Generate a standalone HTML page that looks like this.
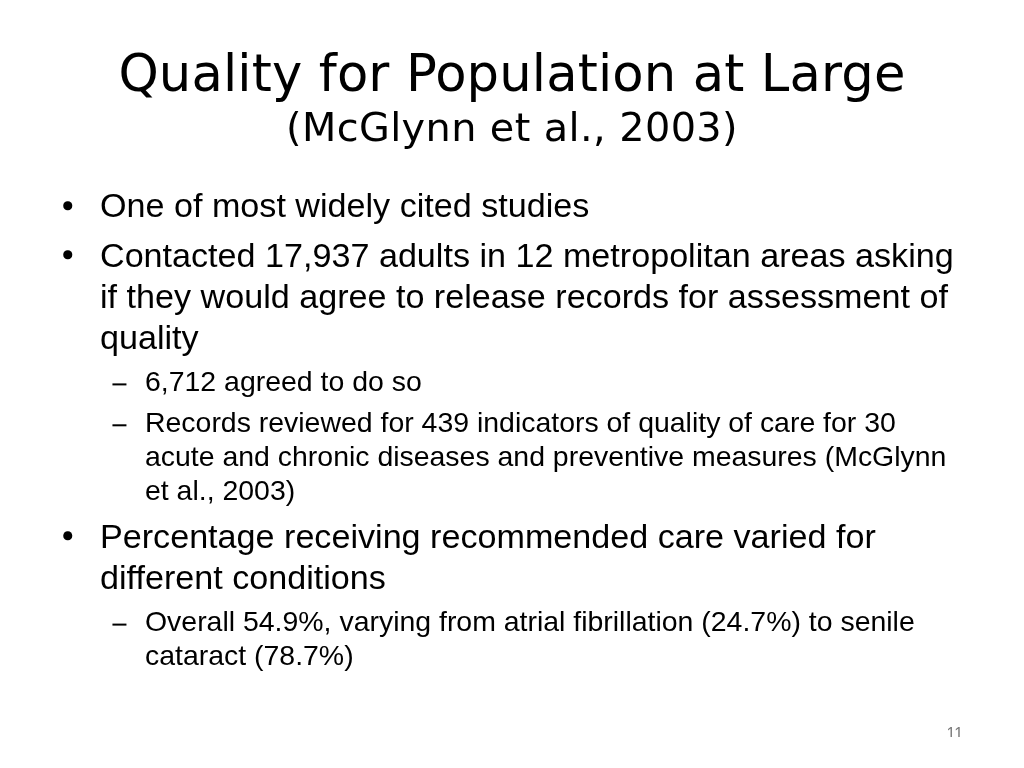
<!DOCTYPE html>
<html>
<head>
<meta charset="utf-8">
<title>Quality for Population at Large</title>
<style>
html,body{margin:0;padding:0;background:#fff;}
body{width:1024px;height:768px;position:relative;overflow:hidden;}
#s{position:absolute;left:0;top:0;width:1024px;height:768px;will-change:transform;}
.l{position:absolute;white-space:nowrap;line-height:1;color:#000;}
.t{font-family:"DejaVu Sans","Liberation Sans",sans-serif;}
.t1{font-size:51.2px;letter-spacing:0.14px;}
.t2{font-size:39.8px;letter-spacing:0.4px;}
.b{font-family:"Liberation Sans",Arial,sans-serif;font-size:34.13px;}
.s{font-family:"Liberation Sans",Arial,sans-serif;font-size:28.44px;}
.bul{position:absolute;width:8.5px;height:8.5px;border-radius:50%;background:#000;}
.dsh{position:absolute;width:13.6px;height:2.1px;background:#000;}
.pn{font-family:"Liberation Sans",Arial,sans-serif;font-size:16px;color:#7a7a7a;height:11px;overflow:hidden;}
</style>
</head>
<body>
<div id="s">
<div class="l t t1" style="left:0;width:1024px;text-align:center;top:48.29px">Quality for Population at Large</div>
<div class="l t t2" style="left:0;width:1024px;text-align:center;top:107.87px">(McGlynn et al., 2003)</div>
<div class="bul" style="left:0;top:0;transform:translate(63.25px,201.15px)"></div>
<div class="l b" style="left:100.0px;top:188.49px">One of most widely cited studies</div>
<div class="bul" style="left:0;top:0;transform:translate(63.25px,250.35px)"></div>
<div class="l b" style="left:100.0px;top:237.69px">Contacted 17,937 adults in 12 metropolitan areas asking</div>
<div class="l b" style="left:100.0px;top:278.69px">if they would agree to release records for assessment of</div>
<div class="l b" style="left:100.0px;top:319.69px">quality</div>
<div class="dsh" style="left:0;top:0;transform:translate(112.45px,383.40px)"></div>
<div class="l s" style="left:145.0px;top:366.63px">6,712 agreed to do so</div>
<div class="dsh" style="left:0;top:0;transform:translate(112.45px,424.30px)"></div>
<div class="l s" style="left:145.0px;top:407.53px">Records reviewed for 439 indicators of quality of care for 30</div>
<div class="l s" style="left:145.0px;top:441.83px">acute and chronic diseases and preventive measures (McGlynn</div>
<div class="l s" style="left:145.0px;top:475.83px">et al., 2003)</div>
<div class="bul" style="left:0;top:0;transform:translate(63.25px,531.25px)"></div>
<div class="l b" style="left:100.0px;top:518.59px">Percentage receiving recommended care varied for</div>
<div class="l b" style="left:100.0px;top:559.59px">different conditions</div>
<div class="dsh" style="left:0;top:0;transform:translate(112.45px,623.60px)"></div>
<div class="l s" style="left:145.0px;top:606.83px">Overall 54.9%, varying from atrial fibrillation (24.7%) to senile</div>
<div class="l s" style="left:145.0px;top:641.03px">cataract (78.7%)</div>
<div class="l pn" style="left:946.5px;top:726px">11</div>
</div>
</body>
</html>
